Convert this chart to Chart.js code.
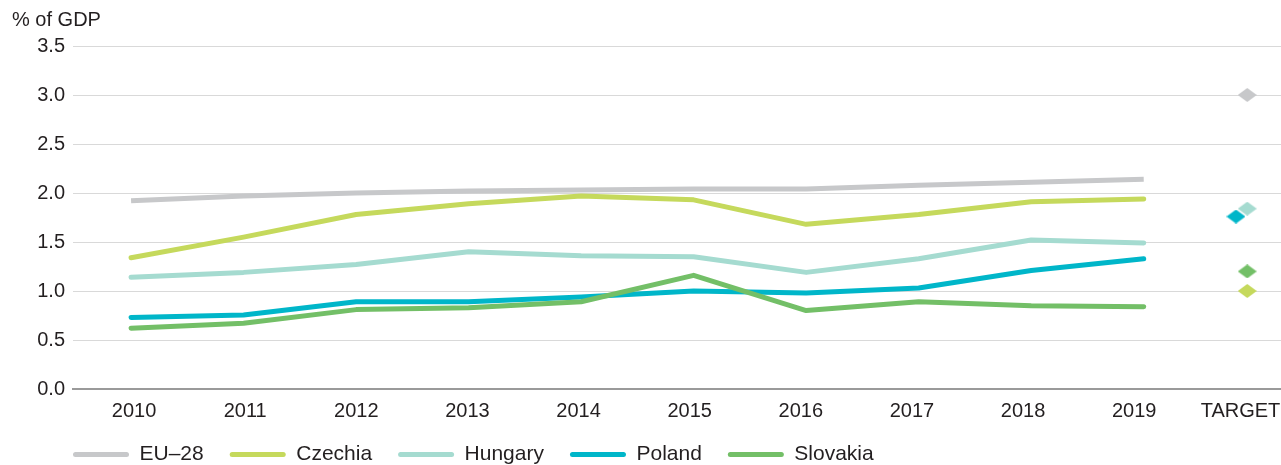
<!DOCTYPE html>
<html>
<head>
<meta charset="utf-8">
<script src="https://cdn.jsdelivr.net/npm/chart.js@4.4.1/dist/chart.umd.min.js"></script>
<style>
  html, body { margin: 0; padding: 0; background: #ffffff; }
  #wrap { width: 1281px; height: 465px; position: relative; }
</style>
</head>
<body>
<div id="wrap"><canvas id="c" width="1281" height="465"></canvas></div>
<script>
// ---- data ----
const years = ['2010', '2011', '2012', '2013', '2014', '2015', '2016', '2017', '2018', '2019'];
const targetLabel = 'TARGET';
const seriesNames = ['EU\u201328', 'Czechia', 'Hungary', 'Poland', 'Slovakia'];
const eu28     = [1.92, 1.97, 2.00, 2.02, 2.03, 2.04, 2.04, 2.08, 2.11, 2.14];
const czechia  = [1.34, 1.55, 1.78, 1.89, 1.97, 1.93, 1.68, 1.78, 1.91, 1.94];
const hungary  = [1.14, 1.19, 1.27, 1.40, 1.36, 1.35, 1.19, 1.33, 1.52, 1.49];
const poland   = [0.73, 0.755, 0.89, 0.89, 0.94, 1.00, 0.98, 1.03, 1.21, 1.33];
const slovakia = [0.62, 0.67, 0.81, 0.83, 0.89, 1.16, 0.80, 0.89, 0.85, 0.84];
const targets  = [3.0, 1.0, 1.84, 1.76, 1.2]; // EU-28, Czechia, Hungary, Poland, Slovakia
const yTicks = [0, 0.5, 1.0, 1.5, 2.0, 2.5, 3.0, 3.5];

// ---- styles ----
const colors = ['#c7c8ca', '#c5d95c', '#a5dbd0', '#00b6c9', '#73bf67'];
const caps = ['butt', 'round', 'round', 'round', 'round'];
const textColor = '#231f20';
const FONT = "'Liberation Sans', Arial, sans-serif";

const TARGET_POS = 9.92;
const TARGET_LABEL_POS = 9.86;
const targetJitter = [0, 0, 0, -0.1, 0];
// year labels sit on a slightly tighter grid than the data points in the original
const LABEL_START = 0.027, LABEL_STEP = 0.9876;

function diamond(color) {
  const c = document.createElement('canvas');
  c.width = 19; c.height = 14;
  const g = c.getContext('2d');
  g.fillStyle = color;
  g.beginPath();
  g.moveTo(9.5, 0); g.lineTo(19, 7); g.lineTo(9.5, 14); g.lineTo(0, 7);
  g.closePath(); g.fill();
  return c;
}

const seriesValues = [eu28, czechia, hungary, poland, slovakia];
const drawOrder = [5, 4, 3, 2, 1]; // Slovakia on top
const datasets = seriesValues.map((vals, s) => ({
  type: 'line',
  label: seriesNames[s],
  data: vals.map((v, i) => ({ x: i, y: v })),
  borderColor: colors[s],
  backgroundColor: colors[s],
  borderWidth: 5,
  borderCapStyle: caps[s],
  borderJoinStyle: 'round',
  pointRadius: 0,
  tension: 0,
  fill: false,
  order: drawOrder[s]
}));
datasets.push({
  type: 'scatter',
  label: '__target',
  data: targets.map((v, s) => ({ x: TARGET_POS + targetJitter[s], y: v })),
  pointStyle: colors.map(diamond),
  pointRadius: 8,
  backgroundColor: colors,
  borderWidth: 0,
  order: 0
});

const xTickList = years.map((y, i) => ({ value: LABEL_START + LABEL_STEP * i, label: y }));
xTickList.push({ value: TARGET_LABEL_POS, label: targetLabel });

const LEGEND_SHRINK = 25;
const LEGEND_RAISE = 15;
const legendTweak = {
  id: 'legendTweak',
  beforeLayout(chart) {
    const lg = chart.legend;
    if (lg && !lg._tweaked) {
      const orig = lg.fit.bind(lg);
      lg.fit = function () { orig(); this.height -= LEGEND_SHRINK; };
      lg._tweaked = true;
    }
  },
  beforeDraw(chart) {
    const lg = chart.legend;
    if (lg) {
      lg.left = 73 - chart.options.plugins.legend.labels.padding;
      lg.top = chart.height - lg.height - LEGEND_RAISE;
    }
  }
};

new Chart(document.getElementById('c'), {
  data: { datasets },
  options: {
    responsive: false,
    animation: false,
    events: [],
    layout: { autoPadding: false, padding: { left: 12, right: 0, top: 0, bottom: 0 } },
    scales: {
      x: {
        type: 'linear',
        min: -0.516,
        max: 10.22,
        afterBuildTicks(scale) {
          scale.ticks = xTickList.map(t => ({ value: t.value }));
        },
        afterFit(scale) { scale.paddingLeft = 0; scale.paddingRight = 0; },
        ticks: {
          autoSkip: false,
          maxRotation: 0,
          padding: 10,
          color: textColor,
          font: { family: FONT, size: 20 },
          callback: (v, idx) => xTickList[idx] ? xTickList[idx].label : ''
        },
        grid: { display: false, drawTicks: false },
        border: { display: true, color: '#9a9a9a', width: 2 }
      },
      y: {
        type: 'linear',
        min: 0,
        max: 3.5,
        afterBuildTicks(scale) {
          scale.ticks = yTicks.map(v => ({ value: v }));
        },
        afterFit(scale) { scale.width = 61; },
        ticks: {
          padding: 8,
          color: textColor,
          font: { family: FONT, size: 20 },
          callback: (v) => Number(v).toFixed(1)
        },
        grid: { color: '#d9d9d9', lineWidth: 1, drawTicks: false },
        border: { display: false }
      }
    },
    plugins: {
      title: {
        display: true,
        text: '% of GDP',
        align: 'start',
        color: textColor,
        font: { family: FONT, size: 20, weight: 'normal' },
        padding: { top: 8, bottom: 14 }
      },
      legend: {
        display: true,
        position: 'bottom',
        align: 'start',
        labels: {
          boxWidth: 56,
          boxHeight: 5,
          padding: 26,
          color: textColor,
          font: { family: FONT, size: 21 },
          filter: (item) => item.text !== '__target',
          sort: (a, b) => a.datasetIndex - b.datasetIndex,
          generateLabels(chart) {
            return chart.data.datasets.map((ds, i) => ({
              text: ds.label,
              fillStyle: Array.isArray(ds.backgroundColor) ? ds.backgroundColor[0] : ds.backgroundColor,
              strokeStyle: 'rgba(0,0,0,0)',
              lineWidth: 0,
              borderRadius: 2.5,
              fontColor: textColor,
              hidden: false,
              datasetIndex: i
            }));
          }
        }
      },
      tooltip: { enabled: false }
    }
  },
  plugins: [legendTweak]
});
</script>
</body>
</html>
